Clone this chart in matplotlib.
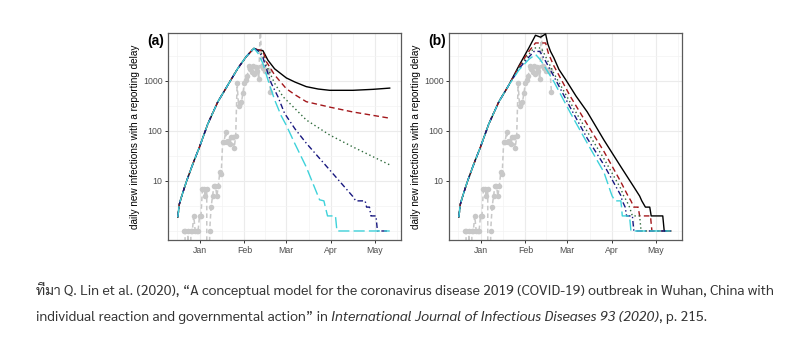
import matplotlib
matplotlib.use("Agg")
import matplotlib.pyplot as plt
import numpy as np
import pandas as pd

BASE = pd.Timestamp("2020-01-01")

# reported cases (grey), one value per day from 2019-12-21
gray_start = "2019-12-21"
gray_vals = [1, 1, 0, 1, 0, 1, 1, 2, 1, 1, 1, 2, 2, 7, 7, 5, 7, 0, 1, 3, 5, 8, 8, 5, 8,
             15, 14, 60, 60, 97, 60, 62, 55, 77, 77, 46, 80, 892, 315, 356, 378, 576,
             894, 1033, 1242, 1967, 1766, 1501, 1985, 1379, 1921, 1552, 1104, 13436,
             2000, 1800, 1550, 1690, 1600, 1660, 615]

# model curves, x in days since 2020-01-01
rise_days = [-15, -14, -12.7, -9.2, -4.6, 0, 5.8, 12.7, 19.6, 26.5, 32.3, 37.6]
rise_vals = [1.9, 3.4, 4.6, 9.5, 22, 48, 140, 385, 830, 1790, 3070, 4500]

a_black_days = [40.4, 43.8, 47.3, 51.9, 60, 66, 73.8, 82, 90, 106, 120, 131.5]
a_black_vals = [4170, 4050, 2600, 1750, 1150, 950, 770, 690, 650, 650, 680, 720]
a_red_days = [40.4, 43.8, 46.1, 51.9, 60, 66, 73.8, 90, 106, 131.5]
a_red_vals = [4170, 4000, 2460, 1320, 700, 530, 385, 300, 240, 180]
a_green_days = [40.4, 43.8, 46.1, 51.9, 57.7, 66, 73.8, 90, 106, 131.5]
a_green_vals = [4100, 3300, 2090, 900, 485, 280, 166, 83, 48, 21]
a_navy_days = [40.4, 43.8, 45, 49.6, 54.2, 58.8, 66, 73.8, 90, 106, 108, 114.5,
               115.5, 117.5, 118.5, 122, 123, 131.5]
a_navy_vals = [4000, 3000, 2250, 900, 485, 225, 110, 57, 16.6, 4.9, 4, 4, 3, 3, 2, 2, 1, 1]
a_cyan_days = [40.4, 43.8, 47.3, 51.9, 56.5, 60, 66, 73.8, 83, 86, 87, 88.5, 94, 95, 131.5]
a_cyan_vals = [3600, 2250, 1050, 420, 200, 130, 55, 19, 4.2, 4, 3, 2, 2, 1, 1]

b_black_days = [26.5, 33.4, 38, 41.5, 45, 46.5, 48.4, 50.7, 54.2, 59, 66, 73.8, 85.3,
                96.9, 106, 110, 111.5, 114, 117, 118, 126, 127, 131.5]
b_black_vals = [2000, 4570, 8200, 7500, 8700, 5500, 3900, 2900, 1700, 1050, 500, 240, 66,
                19.5, 7.6, 5, 4, 3, 3, 2, 2, 1, 1]
b_red_days = [26.5, 33.4, 38, 45, 47, 50.7, 62.3, 73.8, 85.3, 96.9, 102, 104, 106, 109,
              110, 117.5, 118.5, 131.5]
b_red_vals = [1900, 3900, 5750, 5750, 3500, 2000, 480, 135, 39, 9.7, 5, 4, 3, 3, 2, 2, 1, 1]
b_green_days = [26.5, 33.4, 37, 42, 44.5, 50.7, 62.3, 73.8, 85.3, 96.9, 99, 101, 103,
                105, 110, 111, 131.5]
b_green_vals = [1800, 3400, 4570, 4570, 3300, 1420, 360, 97, 28, 7.1, 5, 4, 3, 2, 2, 1, 1]
b_navy_days = [26.5, 33.4, 37, 41, 44, 50.7, 62.3, 73.8, 85.3, 96.9, 98, 100, 101, 105,
               106, 131.5]
b_navy_vals = [1750, 3000, 3900, 3900, 2800, 1230, 285, 71, 21, 5.2, 4, 3, 2, 2, 1, 1]
b_cyan_days = [26.5, 33.4, 38, 41.5, 50.7, 62.3, 73.8, 85.3, 90, 91, 93, 97, 97.5, 98,
               103, 104, 131.5]
b_cyan_vals = [1650, 2700, 3400, 2630, 970, 225, 57, 15, 6, 5, 4, 4, 3, 2, 2, 1, 1]

month_labels = ["Jan", "Feb", "Mar", "Apr", "May"]
y_ticks = [10, 100, 1000]

caption_1 = ("ที่มา Q. Lin et al. (2020), \u201cA conceptual model for the coronavirus disease "
             "2019 (COVID-19) outbreak in Wuhan, China with")
caption_2a = "individual reaction and governmental action\u201d in "
caption_2b = "International Journal of Infectious Diseases 93 (2020)"
caption_2c = ", p. 215."

STYLES = [
    ("black", "-"),
    ("#A3171B", (0, (4, 2.5))),
    ("#2F6B3C", (0, (1, 2))),
    ("#17177F", (0, (4, 2, 1, 2))),
    ("#3ED2DA", (0, (8, 3))),
]
CAPTION_FONT = ["Sarabun", "DejaVu Sans"]


def to_dates(days):
    return BASE + pd.to_timedelta(np.asarray(days, dtype=float), unit="D")


def draw_panel(ax, curves, tag):
    gdates = pd.date_range(gray_start, periods=len(gray_vals), freq="D")
    ax.plot(gdates, gray_vals, color="#C8C8C8", lw=1.1, ls=(0, (3, 2)), zorder=2)
    ax.scatter(gdates, gray_vals, s=16, color="#C8C8C8", lw=0, zorder=2)
    for (days, vals), (col, ls) in zip(curves, STYLES):
        ax.plot(to_dates(days), vals, color=col, ls=ls, lw=1.0, zorder=3)

    ax.set_yscale("log")
    ax.set_ylim(0.66, 9100)
    ax.set_xlim(to_dates([-21.8])[0], to_dates([139.3])[0])
    ax.set_yticks(y_ticks)
    ax.set_yticklabels([str(v) for v in y_ticks])
    ax.set_yticks([10 ** e for e in [0, 0.5, 1.5, 2.5, 3.5]], minor=True)
    ax.yaxis.set_minor_formatter(plt.NullFormatter())
    months = pd.to_datetime(["2020-01-01", "2020-02-01", "2020-03-01", "2020-04-01", "2020-05-01"])
    ax.set_xticks(months)
    ax.set_xticklabels(month_labels)
    ax.set_xticks(to_dates([-15.5, 15.5, 45, 75.5, 106, 136.5]), minor=True)

    ax.grid(which="major", color="#EBEBEB", lw=0.8)
    ax.grid(which="minor", color="#F3F3F3", lw=0.5)
    ax.set_axisbelow(True)
    ax.tick_params(which="major", length=2.5, width=0.7, color="#333333",
                   labelsize=6.3, labelcolor="#4D4D4D", pad=1.5)
    ax.tick_params(which="minor", length=0)
    for s in ax.spines.values():
        s.set_color("#5A5A5A")
        s.set_linewidth(0.9)
    ax.set_ylabel("daily new infections with a reporting delay", fontsize=7.2, labelpad=2)
    ax.text(-0.015, 0.995, tag, transform=ax.transAxes, fontsize=10, fontweight="bold",
            ha="right", va="top")


def main():
    plt.rcParams["font.family"] = ["Liberation Sans", "DejaVu Sans"]
    fig = plt.figure(figsize=(8, 3.55), dpi=100)
    ax_a = fig.add_axes([168 / 800, 1 - 240 / 355, 233 / 800, 207 / 355])
    ax_b = fig.add_axes([449 / 800, 1 - 240 / 355, 233 / 800, 207 / 355])

    curves_a = [
        (rise_days + a_black_days, rise_vals + a_black_vals),
        (rise_days + a_red_days, rise_vals + a_red_vals),
        (rise_days + a_green_days, rise_vals + a_green_vals),
        (rise_days + a_navy_days, rise_vals + a_navy_vals),
        (rise_days + a_cyan_days, rise_vals + a_cyan_vals),
    ]
    curves_b = [
        (rise_days[:9] + b_black_days, rise_vals[:9] + b_black_vals),
        (rise_days[:9] + b_red_days, rise_vals[:9] + b_red_vals),
        (rise_days[:9] + b_green_days, rise_vals[:9] + b_green_vals),
        (rise_days[:9] + b_navy_days, rise_vals[:9] + b_navy_vals),
        (rise_days[:9] + b_cyan_days, rise_vals[:9] + b_cyan_vals),
    ]
    draw_panel(ax_a, curves_a, "(a)")
    draw_panel(ax_b, curves_b, "(b)")

    # caption, sized so the first line spans the same width as the original
    r = fig.canvas.get_renderer()
    x0, x1 = 36 / 800, 775 / 800
    probe = fig.text(x0, 0.5, caption_1, fontsize=10, family=CAPTION_FONT)
    w = probe.get_window_extent(renderer=r).width / fig.bbox.width
    probe.remove()
    fs = 10 * (x1 - x0) / w
    fig.text(x0, 1 - 290 / 355, caption_1, fontsize=fs, family=CAPTION_FONT, va="center",
             color="#333333")
    x = x0
    for txt, style in [(caption_2a, "normal"), (caption_2b, "italic"), (caption_2c, "normal")]:
        t = fig.text(x, 1 - 318 / 355, txt, fontsize=fs, family=CAPTION_FONT, style=style,
                     va="center", color="#333333")
        x = t.get_window_extent(renderer=r).x1 / fig.bbox.width

    fig.savefig("out.png", dpi=100)


if __name__ == "__main__":
    main()
